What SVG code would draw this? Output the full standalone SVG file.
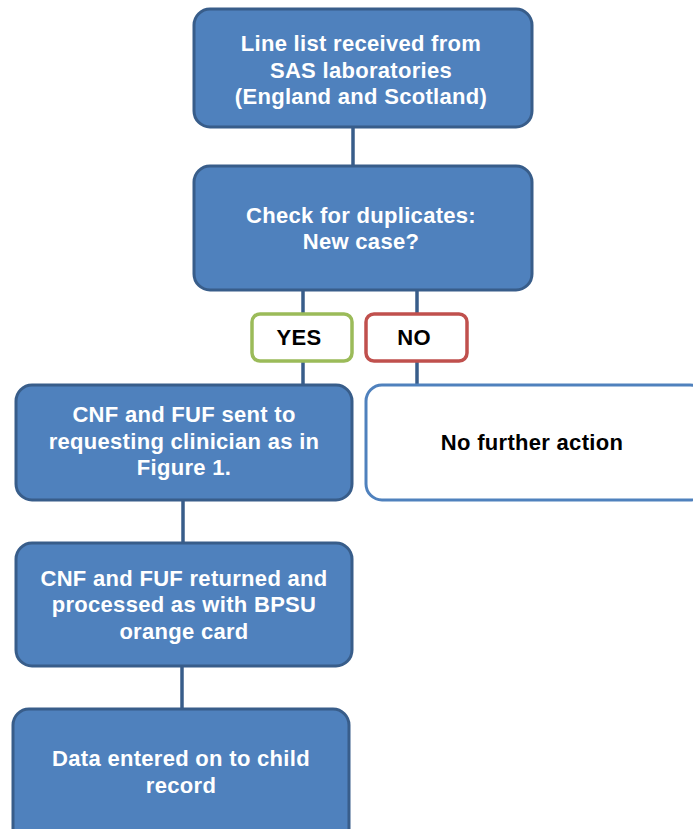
<svg xmlns="http://www.w3.org/2000/svg" width="693" height="829" viewBox="0 0 693 829">
<style>
.box{fill:#4F81BD;stroke:#385D8A;stroke-width:3}
.wbox{fill:#FFFFFF;stroke:#4F81BD;stroke-width:3}
.yes{fill:#FFFFFF;stroke:#9BBB59;stroke-width:3.5}
.no{fill:#FFFFFF;stroke:#C0504D;stroke-width:3.5}
.wt{fill:#FFFFFF;font-family:"Liberation Sans",Arial,sans-serif;font-weight:bold;font-size:22px;letter-spacing:0.3px;text-anchor:middle}
.bt{fill:#000000;font-family:"Liberation Sans",Arial,sans-serif;font-weight:bold;font-size:22px;letter-spacing:0.3px;text-anchor:middle}
.conn{stroke:#385D8A;stroke-width:3.5;fill:none}
</style>
<rect width="693" height="829" fill="#FFFFFF"/>
<g id="connectors">
<line class="conn" x1="353" y1="127" x2="353" y2="166"/>
<line class="conn" x1="303" y1="290" x2="303" y2="386"/>
<line class="conn" x1="417" y1="290" x2="417" y2="386"/>
<line class="conn" x1="183" y1="500" x2="183" y2="543"/>
<line class="conn" x1="182" y1="666" x2="182" y2="709"/>
</g>
<g id="n1">
<rect class="box" x="194" y="9" width="338" height="118" rx="16"/>
<text class="wt" x="361" y="51">Line list received from</text>
<text class="wt" x="361" y="78">SAS laboratories</text>
<text class="wt" x="361" y="104">(England  and Scotland)</text>
</g>
<g id="n2">
<rect class="box" x="194" y="166" width="338" height="124" rx="16"/>
<text class="wt" x="361" y="223">Check for duplicates:</text>
<text class="wt" x="361" y="249">New case?</text>
</g>
<g id="yes">
<rect class="yes" x="252" y="314" width="100" height="47" rx="8"/>
<text class="bt" x="299" y="345">YES</text>
</g>
<g id="no">
<rect class="no" x="366" y="314" width="101" height="47" rx="8"/>
<text class="bt" x="414" y="345">NO</text>
</g>
<g id="n3">
<rect class="box" x="16" y="385" width="336" height="115" rx="16"/>
<text class="wt" x="184" y="422">CNF  and FUF  sent to</text>
<text class="wt" x="184" y="449">requesting clinician as in</text>
<text class="wt" x="184" y="475">Figure  1.</text>
</g>
<g id="n4">
<rect class="wbox" x="366" y="385" width="340" height="115" rx="16"/>
<text class="bt" x="532" y="450">No further action</text>
</g>
<g id="n5">
<rect class="box" x="16" y="543" width="336" height="123" rx="16"/>
<text class="wt" x="184" y="586">CNF  and FUF  returned and</text>
<text class="wt" x="184" y="612">processed as with BPSU</text>
<text class="wt" x="184" y="639">orange card</text>
</g>
<g id="n6">
<rect class="box" x="13" y="709" width="336" height="140" rx="16"/>
<text class="wt" x="181" y="766">Data entered on to child</text>
<text class="wt" x="181" y="793">record</text>
</g>
</svg>
